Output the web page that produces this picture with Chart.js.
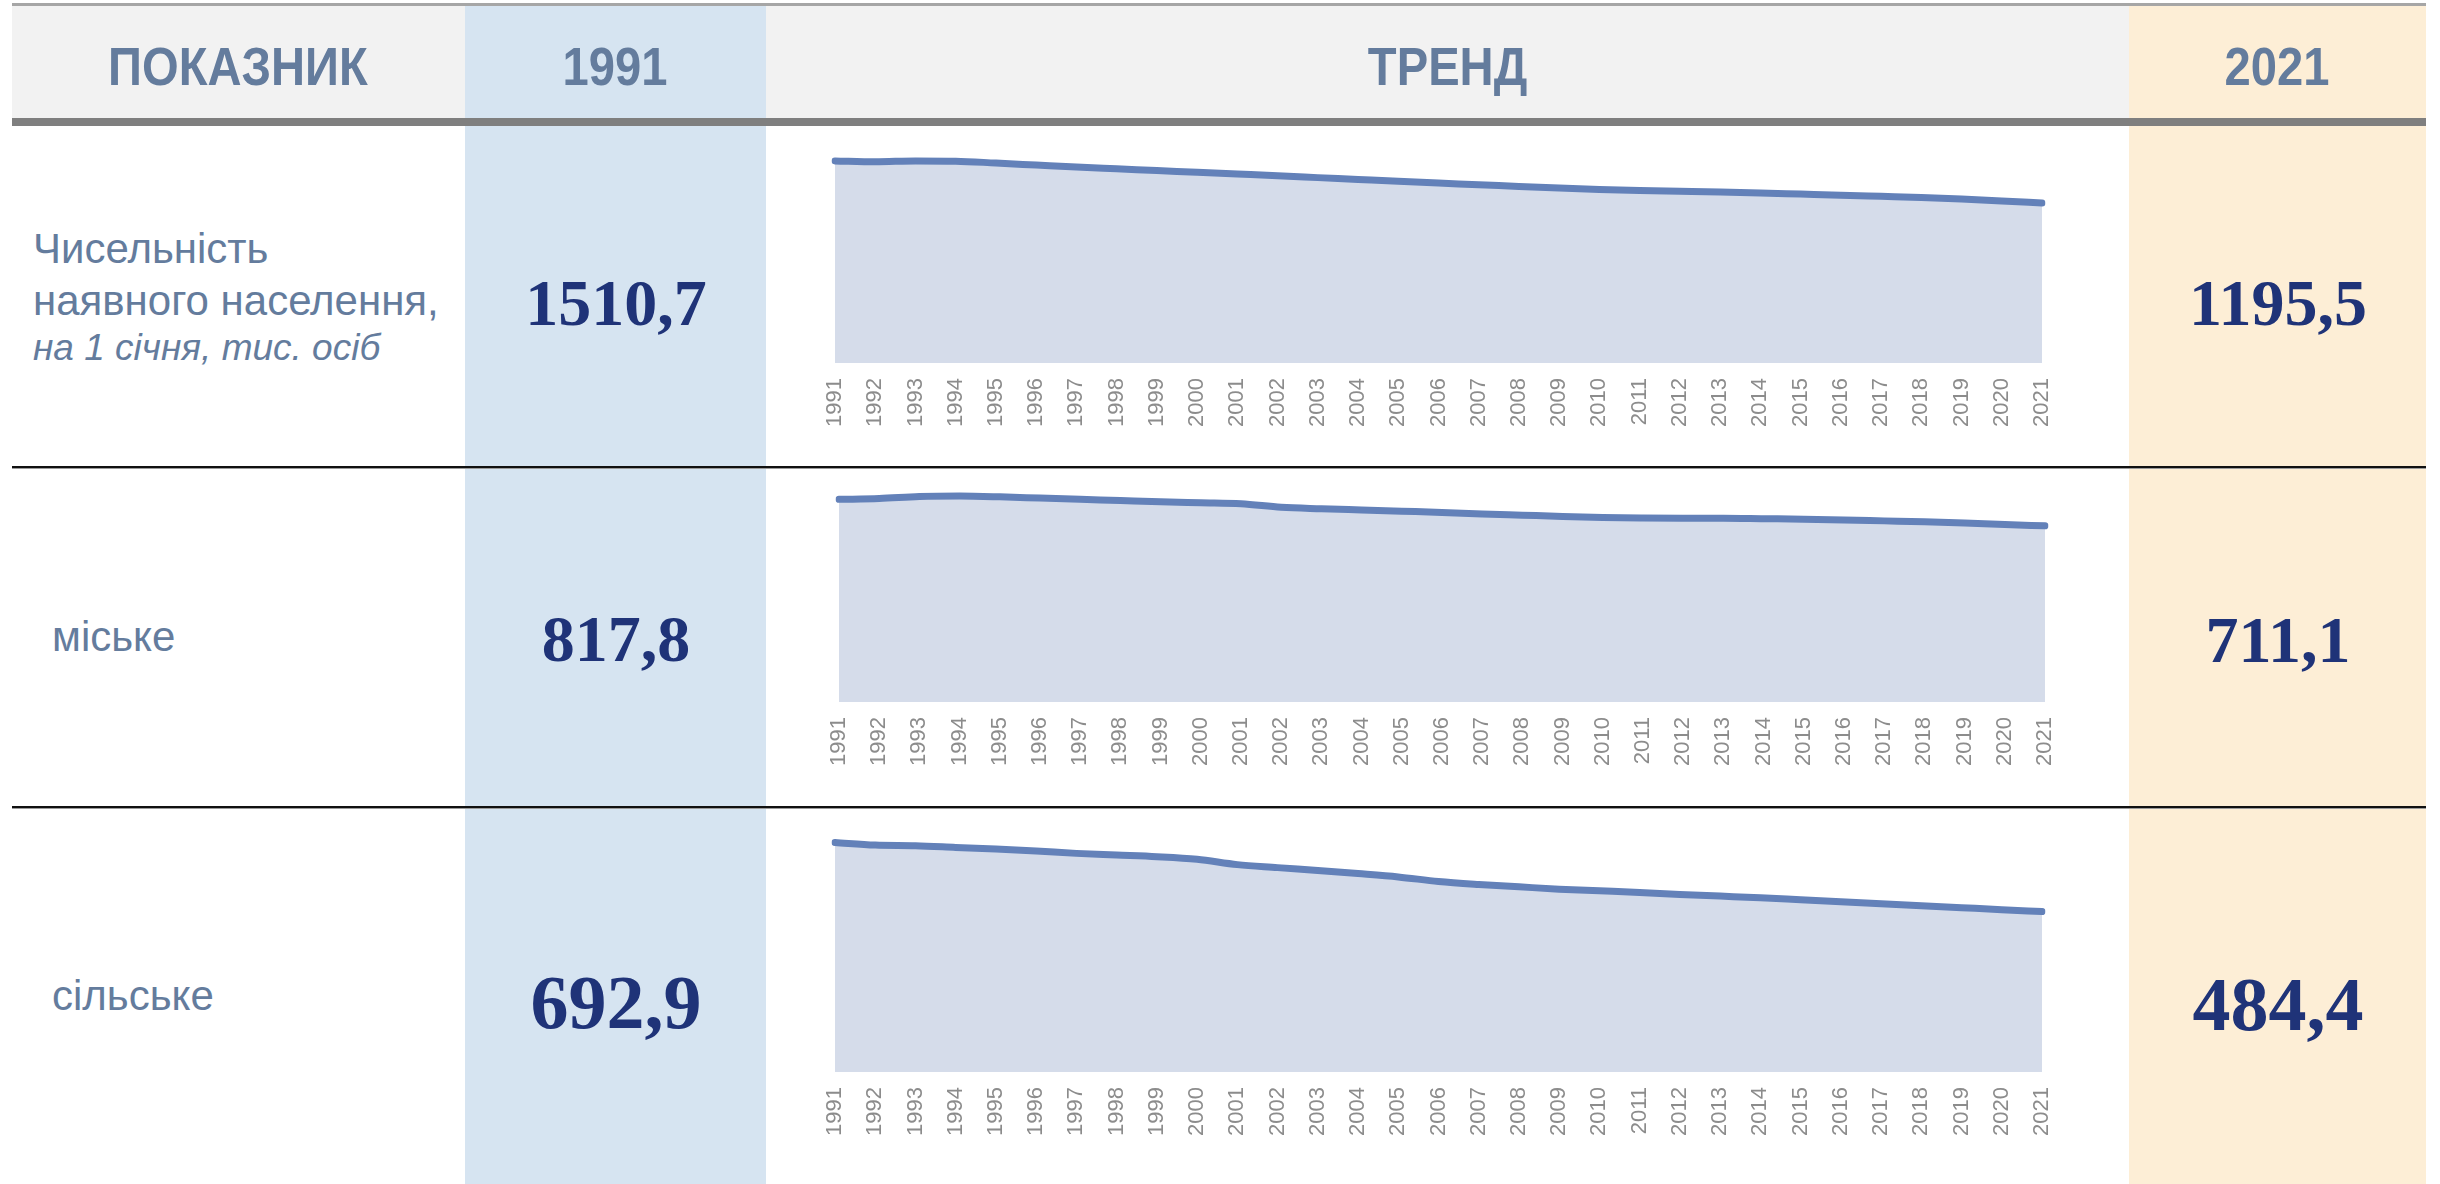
<!DOCTYPE html>
<html>
<head>
<meta charset="utf-8">
<script src="https://cdn.jsdelivr.net/npm/chart.js@4.4.0/dist/chart.umd.min.js"></script>
<style>
  html, body { margin: 0; padding: 0; background: #fff; }
  body { width: 2440px; height: 1184px; position: relative; overflow: hidden; font-family: "Liberation Sans", Arial, sans-serif; }
  .box { position: absolute; }
  .head { position: absolute; width: 400px; text-align: center; font-weight: bold; font-size: 53px; line-height: 1; color: #647c9d; }
  .head span { display: inline-block; transform: scaleX(0.89); }
  .lbl { position: absolute; font-size: 42px; line-height: 1; color: #647c9d; white-space: nowrap; }
  .lbl.it { font-style: italic; font-size: 37px; }
  .val { position: absolute; width: 300px; text-align: center; font-family: "Liberation Serif", "Times New Roman", serif; font-weight: bold; line-height: 1; color: #1f3378; }
  canvas { position: absolute; }
  .sep { position: absolute; left: 12px; width: 2414px; z-index: 2; }
</style>
</head>
<body>
  <!-- table background -->
  <div class="box" style="left:12px;top:6px;width:2414px;height:112px;background:#f2f2f2"></div>
  <div class="box" style="left:465px;top:6px;width:301px;height:1178px;background:#d6e4f1"></div>
  <div class="box" style="left:2129px;top:6px;width:297px;height:1178px;background:#fdeed6"></div>
  <div class="box" style="left:12px;top:3px;width:2414px;height:3px;background:#a6a6a6"></div>
  <div class="box" style="left:12px;top:118px;width:2414px;height:8px;background:#7f7f7f"></div>

  <div class="sep" style="top:466px;height:2px;background:#111"></div>
  <div class="sep" style="top:468px;height:1px;background:#9a9a9a"></div>
  <div class="sep" style="top:806px;height:2px;background:#111"></div>
  <div class="sep" style="top:808px;height:1px;background:#9a9a9a"></div>

  <div class="head" style="left:38px;top:40px"><span>ПОКАЗНИК</span></div>
  <div class="head" style="left:415px;top:40px"><span>1991</span></div>
  <div class="head" style="left:1248px;top:40px"><span>ТРЕНД</span></div>
  <div class="head" style="left:2077px;top:40px"><span>2021</span></div>

  <div class="lbl" style="left:33px;top:228px">Чисельність</div>
  <div class="lbl" style="left:33px;top:280px">наявного населення,</div>
  <div class="lbl it" style="left:33px;top:329px">на 1 січня, тис. осіб</div>
  <div class="lbl" style="left:52px;top:616px">міське</div>
  <div class="lbl" style="left:52px;top:975px">сільське</div>

  <div class="val" id="v0a" style="left:466px;top:270px;font-size:66px"></div>
  <div class="val" id="v0b" style="left:2128px;top:270px;font-size:66px"></div>
  <div class="val" id="v1a" style="left:466px;top:606px;font-size:66px"></div>
  <div class="val" id="v1b" style="left:2128px;top:607px;font-size:66px"></div>
  <div class="val" id="v2a" style="left:466px;top:964px;font-size:76px"></div>
  <div class="val" id="v2b" style="left:2128px;top:966px;font-size:76px"></div>

  <canvas id="trend0" width="1247" height="299" style="left:815px;top:139px"></canvas>
  <canvas id="trend1" width="1246" height="308" style="left:819px;top:469px"></canvas>
  <canvas id="trend2" width="1247" height="350" style="left:815px;top:797px"></canvas>

<script>
const years = ["1991", "1992", "1993", "1994", "1995", "1996", "1997", "1998", "1999", "2000",
  "2001", "2002", "2003", "2004", "2005", "2006", "2007", "2008", "2009", "2010",
  "2011", "2012", "2013", "2014", "2015", "2016", "2017", "2018", "2019", "2020", "2021"];

// тис. осіб, на 1 січня
const totalPop = [1510.7, 1504, 1511, 1509, 1495, 1480, 1465, 1452, 1439, 1426,
  1413, 1400, 1386, 1372, 1358, 1345, 1333, 1320, 1308, 1298,
  1290, 1284, 1278, 1271, 1263, 1255, 1246, 1237, 1226, 1212, 1195.5];

const urbanPop = [817.8, 821, 829, 831, 828, 823, 818, 813, 808, 804,
  800, 786, 780, 775, 770, 765, 759, 754, 749, 745,
  743, 742, 742, 740, 738, 735, 731, 727, 722, 716, 711.1];

const ruralPop = [692.9, 685, 683, 678, 673, 667, 660, 655, 650, 642,
  626, 617, 608, 599, 589, 575, 566, 559, 552, 547,
  542, 536, 531, 526, 520, 514, 508, 502, 496, 490, 484.4];

const yMax = [1600, 900, 800];

const LINE_COLOR = "#6381b9";
const FILL_COLOR = "#d5dcea";

function fmt(v) {
  return v.toFixed(1).replace(".", ",");
}

function makeTrend(id, values, max) {
  new Chart(document.getElementById(id), {
    type: "line",
    data: {
      labels: years,
      datasets: [{
        data: values,
        borderColor: LINE_COLOR,
        backgroundColor: FILL_COLOR,
        borderWidth: 7,
        fill: "origin",
        pointRadius: 0,
        cubicInterpolationMode: "monotone",
        borderCapStyle: "round",
        borderJoinStyle: "round"
      }]
    },
    options: {
      responsive: false,
      animation: false,
      layout: { padding: { left: 20, right: 20, top: 10, bottom: 0 } },
      plugins: { legend: { display: false }, tooltip: { enabled: false } },
      scales: {
        x: {
          offset: false,
          grid: { display: false, drawTicks: false },
          border: { display: false },
          ticks: {
            autoSkip: false,
            maxRotation: 90,
            minRotation: 90,
            padding: 15,
            color: "#8c8c8c",
            font: { family: "Liberation Sans", size: 22 }
          },
          afterFit: (s) => {
            s.height = 75;
            s.paddingLeft = 0;
            s.paddingRight = 0;
          }
        },
        y: { display: false, min: 0, max: max }
      }
    }
  });
}

const series = [totalPop, urbanPop, ruralPop];

series.forEach((s, i) => {
  document.getElementById("v" + i + "a").textContent = fmt(s[0]);
  document.getElementById("v" + i + "b").textContent = fmt(s[s.length - 1]);
  makeTrend("trend" + i, s, yMax[i]);
});
</script>
</body>
</html>
